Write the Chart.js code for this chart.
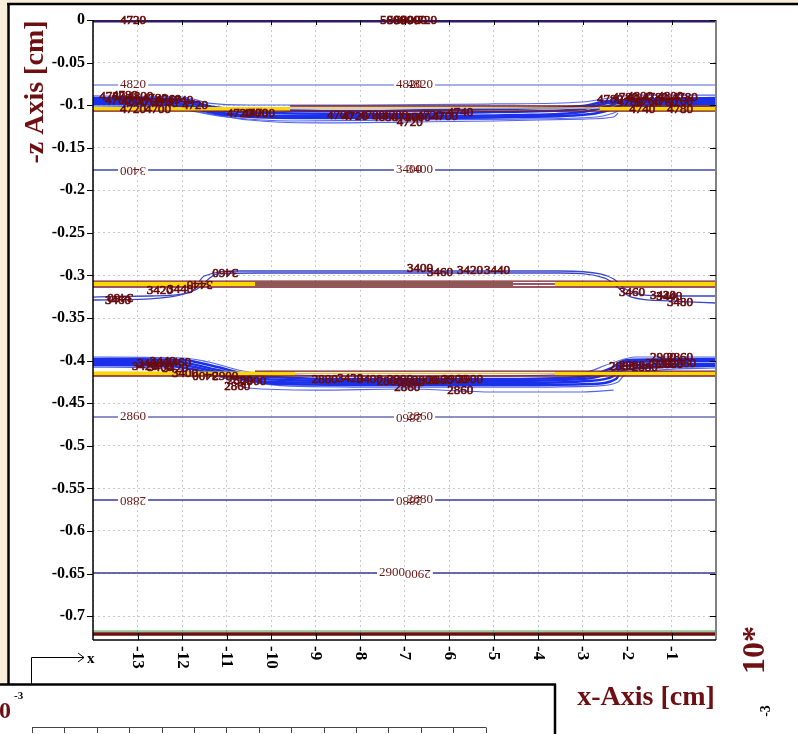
<!DOCTYPE html>
<html>
<head>
<meta charset="utf-8">
<script src="https://cdn.jsdelivr.net/npm/chart.js@4.4.0/dist/chart.umd.min.js"></script>
<style>
html, body { margin: 0; padding: 0; background: #fff; }
canvas { display: block; }
</style>
</head>
<body>
<canvas id="contour" width="798" height="734"></canvas>
<script>
// x in 1e-3 cm, y in cm
var xTicks = [-13, -12, -11, -10, -9, -8, -7, -6, -5, -4, -3, -2, -1];
var yTicks = [0, -0.05, -0.1, -0.15, -0.2, -0.25, -0.3, -0.35, -0.4, -0.45, -0.5, -0.55, -0.6, -0.65, -0.7];

// flat isotherms
var flatLevels = [-0.0763, -0.1761, -0.4662, -0.5636, -0.6494];
var topLevel = -0.0012;
var bottomGreen = -0.7175;
var bottomRed = -0.7210;

// bundle around -0.1
var upperBundle = [
    [[-14, -0.0892], [-12, -0.0904], [-11.4, -0.0975], [-10.5, -0.0998], [-8, -0.0998], [-5, -0.0986], [-3, -0.0963], [-2.4, -0.0916], [-1.8, -0.0881], [0, -0.0881]],
    [[-14, -0.0916], [-12, -0.0928], [-11.3, -0.1022], [-10, -0.1057], [-8, -0.1069], [-5, -0.1045], [-3, -0.1010], [-2.4, -0.0951], [0, -0.0916]],
    [[-14, -0.0939], [-12.1, -0.0951], [-11.2, -0.1057], [-10, -0.1092], [-7, -0.1104], [-5, -0.1080], [-3, -0.1045], [-2.4, -0.0975], [0, -0.0939]],
    [[-14, -0.0963], [-12.2, -0.0975], [-11.1, -0.1092], [-9.8, -0.1127], [-7, -0.1127], [-4.5, -0.1116], [-3, -0.1080], [-2.4, -0.1010], [-2.2, -0.0975], [0, -0.0963]],
    [[-14, -0.0986], [-12.3, -0.0998], [-11, -0.1116], [-9.5, -0.1151], [-7, -0.1151], [-4.5, -0.1139], [-2.8, -0.1104], [-2.4, -0.1057], [-2.1, -0.0998], [0, -0.0986]],
    [[-14, -0.1010], [-12.4, -0.1022], [-11, -0.1139], [-9.5, -0.1186], [-7, -0.1174], [-4.5, -0.1163], [-2.7, -0.1139], [-2.3, -0.1092], [-2.0, -0.1022], [0, -0.1010]],
    [[-11.6, -0.1080], [-10.5, -0.1174], [-9, -0.1209], [-7, -0.1198], [-5, -0.1186], [-3, -0.1163], [-2.3, -0.1139], [-2.2, -0.1092]]
];

// bundle around -0.3
var middleCurves = [
    [[-14, -0.3253], [-12.7, -0.3241], [-11.8, -0.3194], [-11.5, -0.3006], [-10.7, -0.2947], [-3.5, -0.2947], [-2.6, -0.2982], [-2.3, -0.3041], [-2.0, -0.3170], [-1.2, -0.3241], [0, -0.3241]],
    [[-14, -0.3288], [-12.5, -0.3265], [-11.7, -0.3170], [-11.2, -0.2982], [-10.3, -0.2971], [-3.5, -0.2971], [-2.5, -0.3030], [-1.9, -0.3253], [-1, -0.3300], [0, -0.3323]]
];

// bundle around -0.41
var lowerBundle = [
    [[-14, -0.3957], [-12, -0.3969], [-11.4, -0.4016], [-10.5, -0.4133], [-8, -0.4180], [-5, -0.4180], [-3, -0.4145], [-2.4, -0.4039], [-1.8, -0.3957], [0, -0.3957]],
    [[-14, -0.3981], [-12, -0.3992], [-11.3, -0.4063], [-10.3, -0.4180], [-8, -0.4216], [-5, -0.4216], [-3, -0.4192], [-2.4, -0.4098], [-2, -0.3992], [0, -0.3981]],
    [[-14, -0.4004], [-12.1, -0.4016], [-11.2, -0.4110], [-10.2, -0.4216], [-8, -0.4239], [-5, -0.4239], [-3, -0.4216], [-2.35, -0.4133], [-2, -0.4016], [0, -0.4004]],
    [[-14, -0.4028], [-12.2, -0.4039], [-11.1, -0.4145], [-10, -0.4251], [-7, -0.4263], [-4.5, -0.4263], [-2.9, -0.4239], [-2.3, -0.4180], [-2.1, -0.4063], [0, -0.4039]],
    [[-14, -0.4051], [-12.3, -0.4063], [-11, -0.4180], [-9.8, -0.4274], [-7, -0.4286], [-4.5, -0.4286], [-2.8, -0.4274], [-2.25, -0.4216], [-2.1, -0.4110], [0, -0.4063]],
    [[-14, -0.4075], [-12.4, -0.4086], [-10.9, -0.4216], [-9.6, -0.4298], [-7, -0.4310], [-4.5, -0.4310], [-2.7, -0.4298], [-2.2, -0.4251], [-2.05, -0.4169], [0, -0.4086]],
    [[-11.3, -0.4133], [-10.5, -0.4321], [-9, -0.4345], [-7, -0.4333], [-5, -0.4368], [-3, -0.4368], [-2.3, -0.4345]]
];

// interface layers (yellow) and their edges (dark red)
var yellowBands = [
    [[-14, -0.1045], [-9.57, -0.1045]],
    [[-2.61, -0.1045], [0, -0.1045]],
    [[-14, -0.3100], [-10.36, -0.3100]],
    [[-3.62, -0.3100], [0, -0.3100]],
    [[-14, -0.4151], [-9.46, -0.4151]],
    [[-3.62, -0.4151], [0, -0.4151]]
];
var faintBands = [
    [[-9.57, -0.1033], [-2.61, -0.1033]],
    [[-9.46, -0.4151], [-3.62, -0.4151]]
];
var brownBand = [[-10.36, -0.3100], [-4.56, -0.3100]];
var redEdges = [
    [[-14, -0.1069], [0, -0.1069]],
    [[-9.57, -0.1010], [0, -0.1010]],
    [[-14, -0.3065], [0, -0.3065]],
    [[-14, -0.3135], [0, -0.3135]],
    [[-4.56, -0.3100], [-3.62, -0.3100]],
    [[-10.36, -0.4122], [0, -0.4122]],
    [[-14, -0.4180], [0, -0.4180]]
];

// contour labels: text, x, y, rotation
var gapLabels = [
    ['4820', -13.1, -0.0763, 0], ['4820', -6.9, -0.0763, 0], ['4820', -6.65, -0.0763, 0],
    ['3400', -13.1, -0.1761, 180], ['3400', -6.9, -0.1761, 0], ['3400', -6.65, -0.1761, 0],
    ['2860', -13.1, -0.4662, 0], ['2860', -6.9, -0.4662, 180], ['2860', -6.65, -0.4662, 0],
    ['2880', -13.1, -0.5636, 180], ['2880', -6.9, -0.5636, 180], ['2880', -6.65, -0.5636, 0],
    ['2900', -7.28, -0.6494, 0], ['2900', -6.70, -0.6494, 180]
];
var blobLabels = [
    ['4720', -13.1, -0.0012, 0],
    ['5000', -7.26, -0.0012, 0], ['5000', -7.1, -0.0012, 0], ['5000', -6.94, -0.0012, 0], ['5000', -6.79, -0.0012, 0], ['4720', -6.56, -0.0012, 0],
    ['4780', -13.57, -0.0904, 0], ['4780', -13.28, -0.0892, 0], ['4800', -12.94, -0.0904, 0], ['4780', -12.61, -0.0928, 0],
    ['4760', -12.31, -0.0939, 0], ['4740', -12.04, -0.0951, 0], ['4760', -13.44, -0.0951, 0], ['4800', -13.06, -0.0963, 0],
    ['4760', -12.72, -0.0975, 0], ['4740', -12.38, -0.0986, 0], ['4720', -13.10, -0.1057, 0], ['4700', -12.54, -0.1057, 0],
    ['4720', -11.71, -0.1010, 0], ['4720', -10.70, -0.1104, 0], ['4700', -10.36, -0.1104, 0], ['4700', -10.2, -0.1104, 0],
    ['4700', -8.45, -0.1127, 0], ['4720', -8.11, -0.1139, 0], ['4700', -7.73, -0.1127, 0], ['4680', -7.44, -0.1151, 0],
    ['4700', -7.21, -0.1127, 0], ['4720', -6.99, -0.1151, 0], ['4700', -6.70, -0.1151, 0], ['4720', -6.43, -0.1127, 0],
    ['4700', -6.09, -0.1139, 0], ['4720', -6.88, -0.1209, 0], ['4740', -5.75, -0.1092, 0],
    ['4780', -2.38, -0.0939, 0], ['4780', -2.04, -0.0916, 0], ['4800', -1.71, -0.0904, 0], ['4780', -1.37, -0.0916, 0],
    ['4800', -1.03, -0.0904, 0], ['4780', -0.70, -0.0916, 0], ['4760', -1.93, -0.0975, 0], ['4760', -1.53, -0.0963, 0],
    ['4760', -1.15, -0.0975, 0], ['4760', -0.81, -0.0963, 0], ['4740', -1.66, -0.1057, 0], ['4780', -0.81, -0.1057, 0],
    ['3400', -6.65, -0.2924, 0], ['3460', -6.2, -0.2971, 0], ['3420', -5.53, -0.2947, 0], ['3440', -4.92, -0.2947, 0],
    ['3460', -11.03, -0.2959, 180], ['3440', -11.6, -0.3100, 180], ['3420', -12.5, -0.3182, 0], ['3440', -12.04, -0.3170, 0],
    ['3460', -13.39, -0.3253, 180], ['3460', -13.44, -0.3300, 0],
    ['3460', -1.89, -0.3206, 0], ['3420', -1.19, -0.3241, 0], ['3440', -1.05, -0.3253, 0], ['3480', -0.81, -0.3323, 0],
    ['3460', -12.72, -0.4039, 0], ['3440', -12.43, -0.4016, 0], ['3460', -12.09, -0.4028, 0], ['3420', -12.83, -0.4075, 0],
    ['3400', -12.49, -0.4086, 0], ['3420', -12.16, -0.4098, 0], ['3400', -11.93, -0.4157, 0], ['3400', -11.48, -0.4169, 180],
    ['2900', -11.03, -0.4192, 0], ['2880', -10.70, -0.4239, 0], ['2900', -10.40, -0.4251, 0], ['2860', -10.76, -0.4310, 0],
    ['2880', -8.79, -0.4227, 0], ['3420', -8.22, -0.4216, 0], ['3400', -7.78, -0.4227, 0], ['2880', -7.33, -0.4251, 0],
    ['2900', -7.10, -0.4227, 0], ['2880', -6.83, -0.4263, 0], ['2900', -6.54, -0.4239, 0], ['2880', -6.20, -0.4239, 0],
    ['2900', -5.87, -0.4227, 0], ['2900', -5.53, -0.4227, 0], ['2860', -6.94, -0.4321, 0], ['2860', -5.75, -0.4357, 0],
    ['2880', -2.11, -0.4075, 0], ['2900', -1.89, -0.4063, 0], ['2880', -1.60, -0.4086, 0], ['2900', -1.30, -0.4039, 0],
    ['2880', -1.03, -0.4051, 0], ['2860', -0.74, -0.4039, 0], ['2900', -1.19, -0.3969, 0], ['2860', -0.81, -0.3969, 0]
];

var serif = "'Liberation Serif', 'Times New Roman', serif";
var darkRed = '#6e0f12';

function makeLine(points, color, width, order) {
    return {
        data: points.map(function (p) { return { x: p[0], y: p[1] }; }),
        borderColor: color,
        borderWidth: width,
        showLine: true,
        pointRadius: 0,
        fill: false,
        cubicInterpolationMode: 'monotone',
        order: order
    };
}

var datasets = [];
upperBundle.forEach(function (l, i) {
    var outer = (i === 0 || i >= 5);
    datasets.push(makeLine(l, outer ? '#5566ee' : '#1a30ea', outer ? 1.2 : 2.5, 5));
});
lowerBundle.forEach(function (l, i) {
    var outer = (i === 0 || i >= 5);
    datasets.push(makeLine(l, outer ? '#5566ee' : '#1a30ea', outer ? 1.2 : 2.5, 5));
});
middleCurves.forEach(function (l) {
    datasets.push(makeLine(l, '#3a46c8', 1.3, 5));
});
var flatColors = ['#8c96e2', '#4048a8', '#6a6ab8', '#3a3a98', '#3a3a98'];
flatLevels.forEach(function (v, i) {
    datasets.push(makeLine([[-14, v], [0, v]], flatColors[i], 1.6, 4));
});
datasets.push(makeLine([[-14, topLevel], [0, topLevel]], '#2e1a66', 3, 4));
datasets.push(makeLine([[-14, bottomGreen], [0, bottomGreen]], '#3c9a3c', 1, 4));
datasets.push(makeLine([[-14, bottomRed], [0, bottomRed]], '#6b1010', 3.5, 3));
faintBands.forEach(function (l) { datasets.push(makeLine(l, '#e2c44a', 1.5, 3)); });
yellowBands.forEach(function (l) { datasets.push(makeLine(l, '#f7d800', 4, 2)); });
datasets.push(makeLine(brownBand, '#8c5a52', 4, 2));
redEdges.forEach(function (l) { datasets.push(makeLine(l, '#7a1a2a', 1.3, 1)); });

function placeLabel(ctx, chart, lab, fn) {
    var px = chart.scales.x.getPixelForValue(lab[1]);
    var py = chart.scales.y.getPixelForValue(lab[2]);
    ctx.save();
    ctx.translate(px, py);
    if (lab[3]) ctx.rotate(lab[3] * Math.PI / 180);
    fn(ctx.measureText(lab[0]).width);
    ctx.restore();
}

function seg(ctx, x1, y1, x2, y2) {
    ctx.beginPath();
    ctx.moveTo(x1, y1);
    ctx.lineTo(x2, y2);
    ctx.stroke();
}

var decor = {
    id: 'decor',
    beforeDraw: function (chart) {
        var ctx = chart.ctx;
        ctx.save();
        ctx.fillStyle = '#fff';
        ctx.fillRect(0, 0, 798, 734);
        ctx.fillStyle = '#f8eed9';
        ctx.fillRect(0, 0, 798, 3);
        ctx.fillRect(0, 0, 7, 684);
        ctx.strokeStyle = '#000';
        ctx.lineWidth = 2.5;
        seg(ctx, 7, 4, 798, 4);
        seg(ctx, 8.5, 3, 8.5, 684);
        seg(ctx, 0, 684.5, 556, 684.5);
        seg(ctx, 555, 684, 555, 734);
        ctx.restore();
    },
    afterDatasetsDraw: function (chart) {
        var ctx = chart.ctx;
        ctx.save();
        ctx.font = '13px ' + serif;
        ctx.textAlign = 'center';
        ctx.textBaseline = 'middle';
        // gaps in the isolated isotherms first, then all the texts
        gapLabels.forEach(function (lab) {
            placeLabel(ctx, chart, lab, function (w) {
                ctx.fillStyle = '#fff';
                ctx.fillRect(-w / 2 - 2, -5, w + 4, 10);
            });
        });
        gapLabels.forEach(function (lab) {
            placeLabel(ctx, chart, lab, function () {
                ctx.fillStyle = '#6b1515';
                ctx.fillText(lab[0], 0, 0);
            });
        });
        ctx.strokeStyle = '#6a0c0c';
        ctx.lineWidth = 0.7;
        blobLabels.forEach(function (lab) {
            placeLabel(ctx, chart, lab, function () {
                ctx.fillStyle = '#6a0c0c';
                ctx.fillText(lab[0], 0, 0);
                ctx.strokeText(lab[0], 0, 0);
            });
        });
        ctx.restore();
    },
    afterDraw: function (chart) {
        var ctx = chart.ctx;
        var a = chart.chartArea;
        var xs = chart.scales.x, ys = chart.scales.y;
        ctx.save();
        // frame
        ctx.strokeStyle = '#808080';
        ctx.lineWidth = 2;
        seg(ctx, a.right, a.top, a.right, a.bottom);
        ctx.strokeStyle = '#000';
        ctx.lineWidth = 1.5;
        seg(ctx, a.left, a.top, a.left, a.bottom);
        seg(ctx, a.left, a.bottom, a.right, a.bottom);
        ctx.lineWidth = 1;
        xTicks.forEach(function (v) {
            var px = Math.round(xs.getPixelForValue(v)) + 0.5;
            seg(ctx, px, a.top, px, a.top + 5);
            seg(ctx, px, a.bottom, px, a.bottom - 7);
        });
        yTicks.forEach(function (v) {
            var py = Math.round(ys.getPixelForValue(v)) + 0.5;
            seg(ctx, a.left - 6, py, a.left, py);
            seg(ctx, a.right - 6, py, a.right, py);
        });
        // rotated x tick labels
        ctx.fillStyle = '#000';
        ctx.font = 'bold 17px ' + serif;
        ctx.textAlign = 'left';
        ctx.textBaseline = 'middle';
        xTicks.forEach(function (v) {
            ctx.save();
            ctx.translate(xs.getPixelForValue(v), a.bottom + 6);
            ctx.rotate(Math.PI / 2);
            ctx.fillText(String(v), 0, 0);
            ctx.restore();
        });
        // axis titles
        ctx.fillStyle = darkRed;
        ctx.font = 'bold 28px ' + serif;
        ctx.textAlign = 'center';
        ctx.save();
        ctx.translate(36, 92);
        ctx.rotate(-Math.PI / 2);
        ctx.fillText('-z Axis [cm]', 0, 0);
        ctx.restore();
        ctx.fillText('x-Axis [cm]', 646, 698);
        ctx.save();
        ctx.translate(756, 650);
        ctx.rotate(-Math.PI / 2);
        ctx.font = 'bold 32px ' + serif;
        ctx.fillText('10*', 0, 0);
        ctx.restore();
        ctx.save();
        ctx.fillStyle = '#000';
        ctx.translate(766, 711);
        ctx.rotate(-Math.PI / 2);
        ctx.font = 'bold 14px ' + serif;
        ctx.fillText('-3', 0, 0);
        ctx.restore();
        // bottom-left panel
        ctx.fillStyle = darkRed;
        ctx.font = 'bold 24px ' + serif;
        ctx.textAlign = 'left';
        ctx.fillText('0', -1, 712);
        ctx.fillStyle = '#000';
        ctx.font = 'bold 11px ' + serif;
        ctx.fillText('-3', 14, 696);
        // axis direction arrow
        ctx.strokeStyle = '#000';
        ctx.lineWidth = 1;
        seg(ctx, 31.5, 684, 31.5, 657.5);
        seg(ctx, 31.5, 657.5, 84, 657.5);
        seg(ctx, 78, 653, 84, 657.5);
        seg(ctx, 78, 662, 84, 657.5);
        ctx.font = 'bold 15px ' + serif;
        ctx.fillText('x', 87, 659);
        // small ruler
        ctx.strokeStyle = '#444';
        seg(ctx, 32, 727.5, 486, 727.5);
        for (var t = 32; t <= 486; t += 32.4) {
            var tx = Math.round(t) + 0.5;
            seg(ctx, tx, 727.5, tx, 733);
        }
        ctx.restore();
    }
};

new Chart(document.getElementById('contour'), {
    type: 'scatter',
    data: { datasets: datasets },
    plugins: [decor],
    options: {
        responsive: false,
        animation: false,
        layout: { padding: { left: 0, top: 20, right: 82, bottom: 94 } },
        plugins: { legend: { display: false }, tooltip: { enabled: false } },
        scales: {
            x: {
                type: 'linear',
                min: -14,
                max: 0,
                ticks: { display: false, stepSize: 1 },
                grid: { color: '#c8c8c8', lineWidth: 1, drawTicks: false },
                border: { display: false, dash: [2, 3] },
                afterFit: function (s) { s.height = 0; }
            },
            y: {
                type: 'linear',
                min: -0.728,
                max: 0,
                afterBuildTicks: function (s) {
                    s.ticks = yTicks.map(function (v) { return { value: v }; });
                },
                ticks: {
                    color: '#000',
                    padding: 8,
                    font: { family: serif, size: 16, weight: 'bold' },
                    callback: function (v) { return String(+v.toFixed(2)); }
                },
                grid: { color: '#c8c8c8', lineWidth: 1, drawTicks: false },
                border: { display: false, dash: [2, 3] },
                afterFit: function (s) { s.width = 93; }
            }
        }
    }
});
</script>
</body>
</html>
